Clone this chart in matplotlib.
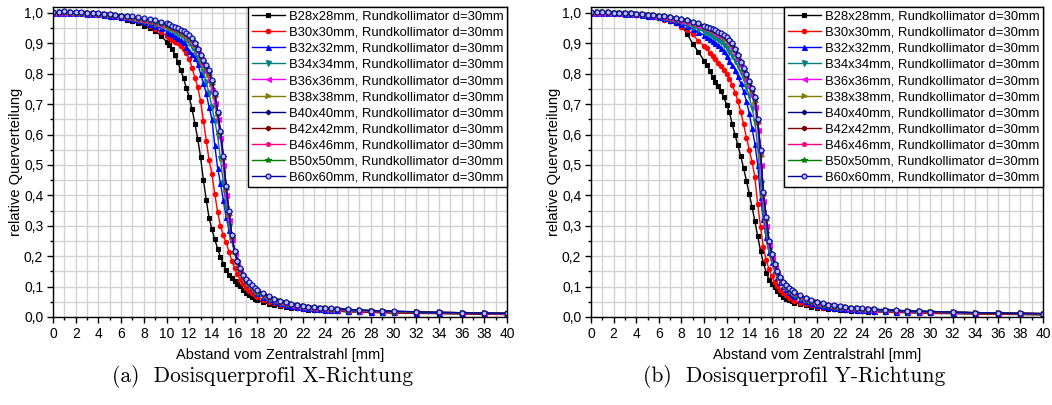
import matplotlib.pyplot as plt
from matplotlib.ticker import MultipleLocator, FuncFormatter

plt.rcParams['font.family'] = ['Liberation Sans', 'DejaVu Sans']

# Messpositionen (Abstand vom Zentralstrahl in mm)
abstand_mm = [0, 0.5, 1, 1.5, 2, 2.5, 3, 3.5, 4, 4.5, 5, 5.5, 6, 6.5, 7, 7.5, 8, 8.5, 9, 9.5,
              10, 10.25, 10.5, 10.75, 11, 11.25, 11.5, 11.75, 12, 12.25, 12.5, 12.75, 13, 13.25, 13.5, 13.75,
              14, 14.25, 14.5, 14.75, 15, 15.25, 15.5, 15.75, 16, 16.25, 16.5, 16.75, 17, 17.25, 17.5, 17.75,
              18, 18.5, 19, 19.5, 20, 20.5, 21, 21.5, 22, 22.5, 23, 23.5, 24, 24.5, 25,
              26, 27, 28, 29, 30, 32, 34, 36, 38, 40]

feld_labels = ["B28x28mm, Rundkollimator d=30mm", "B30x30mm, Rundkollimator d=30mm",
               "B32x32mm, Rundkollimator d=30mm", "B34x34mm, Rundkollimator d=30mm",
               "B36x36mm, Rundkollimator d=30mm", "B38x38mm, Rundkollimator d=30mm",
               "B40x40mm, Rundkollimator d=30mm", "B42x42mm, Rundkollimator d=30mm",
               "B46x46mm, Rundkollimator d=30mm", "B50x50mm, Rundkollimator d=30mm",
               "B60x60mm, Rundkollimator d=30mm"]

# --- Querprofile X-Richtung ---
xr_b28 = [1.000, 1.000, 1.000, 1.000, 0.999, 0.998, 0.997, 0.995, 0.993, 0.990, 0.988, 0.985, 0.982, 0.978, 0.972, 0.966, 0.958, 0.950, 0.940, 0.925,
          0.905, 0.893, 0.880, 0.862, 0.838, 0.812, 0.785, 0.752, 0.722, 0.683, 0.636, 0.585, 0.525, 0.450, 0.385, 0.325, 0.288, 0.255, 0.225, 0.197, 0.175, 0.153, 0.138, 0.127, 0.118, 0.110, 0.101, 0.090, 0.080, 0.072, 0.066, 0.060,
          0.055, 0.049, 0.043, 0.039, 0.035, 0.032, 0.030, 0.028, 0.026, 0.024, 0.023, 0.022, 0.021, 0.020, 0.019,
          0.017, 0.016, 0.015, 0.014, 0.013, 0.012, 0.011, 0.010, 0.009, 0.008]
xr_b30 = [1.000, 1.000, 1.000, 1.000, 0.999, 0.999, 0.998, 0.997, 0.996, 0.994, 0.992, 0.990, 0.987, 0.983, 0.978, 0.972, 0.966, 0.958, 0.948, 0.937,
          0.925, 0.918, 0.912, 0.905, 0.900, 0.892, 0.880, 0.868, 0.848, 0.820, 0.787, 0.755, 0.710, 0.645, 0.580, 0.515, 0.470, 0.405, 0.345, 0.300, 0.268, 0.245, 0.215, 0.185, 0.160, 0.140, 0.123, 0.107, 0.096, 0.087, 0.079, 0.072,
          0.066, 0.057, 0.050, 0.045, 0.040, 0.036, 0.033, 0.031, 0.028, 0.026, 0.025, 0.023, 0.022, 0.021, 0.020,
          0.018, 0.017, 0.016, 0.015, 0.014, 0.013, 0.012, 0.011, 0.010, 0.009]
xr_b32 = [1.000, 1.000, 1.000, 1.000, 0.999, 0.998, 0.997, 0.996, 0.995, 0.993, 0.991, 0.989, 0.986, 0.983, 0.979, 0.975, 0.970, 0.964, 0.957, 0.949,
          0.940, 0.935, 0.930, 0.923, 0.917, 0.910, 0.903, 0.889, 0.875, 0.866, 0.853, 0.832, 0.800, 0.770, 0.735, 0.690, 0.650, 0.565, 0.490, 0.440, 0.385, 0.330, 0.285, 0.255, 0.218, 0.190, 0.162, 0.140, 0.123, 0.108, 0.097, 0.088,
          0.080, 0.067, 0.058, 0.051, 0.046, 0.041, 0.037, 0.034, 0.031, 0.029, 0.027, 0.025, 0.024, 0.023, 0.022,
          0.020, 0.019, 0.018, 0.017, 0.016, 0.014, 0.013, 0.012, 0.011, 0.010]
xr_b34 = [1.000, 1.000, 1.000, 1.000, 0.999, 0.998, 0.997, 0.996, 0.995, 0.994, 0.992, 0.990, 0.988, 0.985, 0.982, 0.978, 0.974, 0.969, 0.963, 0.957,
          0.950, 0.946, 0.942, 0.937, 0.932, 0.926, 0.919, 0.910, 0.900, 0.888, 0.872, 0.850, 0.830, 0.805, 0.772, 0.735, 0.690, 0.645, 0.595, 0.520, 0.440, 0.360, 0.300, 0.250, 0.210, 0.178, 0.152, 0.132, 0.117, 0.105, 0.095, 0.087,
          0.080, 0.069, 0.060, 0.053, 0.047, 0.042, 0.038, 0.035, 0.032, 0.030, 0.028, 0.026, 0.025, 0.024, 0.023,
          0.021, 0.020, 0.019, 0.018, 0.017, 0.015, 0.014, 0.013, 0.012, 0.011]
xr_b36 = [1.000, 1.001, 1.001, 1.001, 1.000, 0.999, 0.998, 0.997, 0.996, 0.995, 0.993, 0.991, 0.989, 0.986, 0.983, 0.980, 0.976, 0.972, 0.967, 0.961,
          0.955, 0.952, 0.948, 0.944, 0.940, 0.935, 0.929, 0.922, 0.913, 0.902, 0.888, 0.870, 0.848, 0.828, 0.805, 0.778, 0.745, 0.702, 0.650, 0.590, 0.500, 0.400, 0.320, 0.255, 0.212, 0.180, 0.155, 0.136, 0.121, 0.109, 0.099, 0.091,
          0.084, 0.072, 0.063, 0.056, 0.050, 0.045, 0.041, 0.037, 0.034, 0.032, 0.030, 0.028, 0.027, 0.026, 0.025,
          0.023, 0.021, 0.020, 0.019, 0.018, 0.016, 0.015, 0.013, 0.012, 0.011]
xr_b38 = [1.001, 1.002, 1.002, 1.002, 1.001, 1.000, 0.999, 0.998, 0.997, 0.996, 0.994, 0.992, 0.990, 0.987, 0.984, 0.981, 0.977, 0.973, 0.969, 0.964,
          0.958, 0.955, 0.951, 0.947, 0.943, 0.938, 0.932, 0.926, 0.918, 0.908, 0.895, 0.877, 0.856, 0.838, 0.818, 0.796, 0.765, 0.725, 0.668, 0.605, 0.520, 0.420, 0.335, 0.262, 0.215, 0.182, 0.157, 0.137, 0.122, 0.110, 0.100, 0.092,
          0.086, 0.074, 0.065, 0.058, 0.052, 0.047, 0.042, 0.039, 0.036, 0.033, 0.031, 0.029, 0.028, 0.027, 0.026,
          0.024, 0.022, 0.020, 0.019, 0.018, 0.016, 0.015, 0.014, 0.012, 0.011]
xr_b40 = [1.002, 1.003, 1.003, 1.003, 1.002, 1.001, 1.000, 0.999, 0.998, 0.996, 0.995, 0.993, 0.991, 0.988, 0.986, 0.983, 0.980, 0.976, 0.972, 0.967,
          0.962, 0.959, 0.955, 0.951, 0.947, 0.942, 0.937, 0.931, 0.923, 0.914, 0.900, 0.882, 0.860, 0.842, 0.824, 0.805, 0.773, 0.733, 0.672, 0.610, 0.527, 0.428, 0.345, 0.267, 0.216, 0.184, 0.159, 0.138, 0.124, 0.113, 0.103, 0.095,
          0.088, 0.077, 0.067, 0.059, 0.053, 0.048, 0.043, 0.040, 0.037, 0.034, 0.032, 0.030, 0.029, 0.028, 0.027,
          0.025, 0.023, 0.021, 0.020, 0.019, 0.017, 0.015, 0.014, 0.013, 0.012]
xr_b42 = [1.001, 1.002, 1.003, 1.002, 1.001, 1.000, 0.999, 0.998, 0.997, 0.996, 0.994, 0.993, 0.990, 0.988, 0.985, 0.982, 0.979, 0.975, 0.971, 0.966,
          0.960, 0.957, 0.953, 0.949, 0.945, 0.940, 0.935, 0.929, 0.921, 0.912, 0.898, 0.880, 0.858, 0.840, 0.822, 0.802, 0.770, 0.730, 0.670, 0.608, 0.525, 0.425, 0.342, 0.265, 0.214, 0.182, 0.157, 0.137, 0.123, 0.111, 0.101, 0.093,
          0.087, 0.075, 0.066, 0.058, 0.052, 0.047, 0.043, 0.039, 0.036, 0.034, 0.031, 0.030, 0.028, 0.027, 0.026,
          0.024, 0.022, 0.021, 0.019, 0.018, 0.016, 0.015, 0.014, 0.013, 0.012]
xr_b46 = [1.000, 1.001, 1.002, 1.002, 1.001, 1.000, 0.999, 0.998, 0.997, 0.995, 0.994, 0.992, 0.990, 0.987, 0.985, 0.982, 0.978, 0.974, 0.970, 0.965,
          0.959, 0.956, 0.952, 0.948, 0.944, 0.939, 0.934, 0.928, 0.920, 0.910, 0.897, 0.879, 0.857, 0.839, 0.820, 0.800, 0.768, 0.728, 0.669, 0.607, 0.523, 0.423, 0.340, 0.264, 0.214, 0.181, 0.156, 0.136, 0.122, 0.110, 0.100, 0.092,
          0.086, 0.074, 0.065, 0.058, 0.052, 0.047, 0.042, 0.039, 0.036, 0.033, 0.031, 0.029, 0.028, 0.027, 0.026,
          0.024, 0.022, 0.020, 0.019, 0.018, 0.016, 0.015, 0.014, 0.012, 0.011]
xr_b50 = [1.001, 1.002, 1.002, 1.002, 1.001, 1.000, 0.999, 0.998, 0.997, 0.996, 0.994, 0.992, 0.990, 0.988, 0.985, 0.982, 0.979, 0.975, 0.971, 0.966,
          0.960, 0.957, 0.953, 0.949, 0.945, 0.941, 0.936, 0.930, 0.922, 0.913, 0.900, 0.881, 0.859, 0.841, 0.823, 0.804, 0.772, 0.732, 0.671, 0.609, 0.526, 0.427, 0.344, 0.266, 0.215, 0.183, 0.158, 0.138, 0.123, 0.112, 0.102, 0.094,
          0.087, 0.076, 0.066, 0.059, 0.053, 0.048, 0.043, 0.039, 0.036, 0.034, 0.032, 0.030, 0.028, 0.027, 0.026,
          0.024, 0.022, 0.021, 0.020, 0.018, 0.016, 0.015, 0.014, 0.013, 0.012]
xr_b60 = [1.003, 1.004, 1.005, 1.004, 1.003, 1.002, 1.000, 0.999, 0.998, 0.997, 0.995, 0.993, 0.991, 0.989, 0.988, 0.985, 0.982, 0.979, 0.976, 0.971,
          0.965, 0.962, 0.958, 0.954, 0.950, 0.945, 0.940, 0.934, 0.927, 0.918, 0.900, 0.882, 0.862, 0.845, 0.830, 0.812, 0.778, 0.738, 0.675, 0.612, 0.530, 0.430, 0.350, 0.270, 0.218, 0.185, 0.160, 0.139, 0.125, 0.114, 0.104, 0.096,
          0.090, 0.078, 0.068, 0.060, 0.053, 0.048, 0.043, 0.040, 0.037, 0.034, 0.032, 0.030, 0.029, 0.028, 0.027,
          0.025, 0.023, 0.021, 0.020, 0.019, 0.017, 0.015, 0.014, 0.013, 0.012]

# --- Querprofile Y-Richtung ---
yr_b28 = [1.000, 1.000, 1.000, 0.999, 0.998, 0.997, 0.996, 0.995, 0.993, 0.992, 0.990, 0.988, 0.985, 0.980, 0.974, 0.966, 0.956, 0.932, 0.898, 0.872,
          0.843, 0.830, 0.810, 0.790, 0.774, 0.760, 0.742, 0.722, 0.698, 0.673, 0.633, 0.598, 0.565, 0.528, 0.490, 0.448, 0.405, 0.362, 0.315, 0.265, 0.218, 0.178, 0.146, 0.123, 0.108, 0.097, 0.085, 0.075, 0.066, 0.060, 0.055, 0.051,
          0.047, 0.042, 0.038, 0.034, 0.031, 0.029, 0.027, 0.025, 0.023, 0.022, 0.021, 0.020, 0.019, 0.018, 0.017,
          0.016, 0.015, 0.014, 0.013, 0.012, 0.011, 0.010, 0.009, 0.008, 0.007]
yr_b30 = [1.000, 1.000, 1.000, 1.000, 0.999, 0.998, 0.997, 0.996, 0.994, 0.992, 0.990, 0.987, 0.983, 0.978, 0.972, 0.965, 0.955, 0.943, 0.930, 0.907,
          0.892, 0.883, 0.868, 0.858, 0.847, 0.835, 0.824, 0.811, 0.798, 0.782, 0.762, 0.738, 0.710, 0.675, 0.635, 0.590, 0.550, 0.510, 0.460, 0.370, 0.296, 0.230, 0.188, 0.157, 0.134, 0.116, 0.101, 0.089, 0.079, 0.071, 0.064, 0.058,
          0.054, 0.047, 0.042, 0.038, 0.034, 0.031, 0.029, 0.027, 0.025, 0.024, 0.022, 0.021, 0.020, 0.019, 0.019,
          0.017, 0.016, 0.015, 0.014, 0.013, 0.012, 0.011, 0.010, 0.009, 0.008]
yr_b32 = [1.000, 1.000, 1.000, 1.000, 0.999, 0.998, 0.997, 0.996, 0.995, 0.993, 0.991, 0.989, 0.986, 0.982, 0.977, 0.971, 0.964, 0.956, 0.947, 0.937,
          0.927, 0.921, 0.915, 0.908, 0.902, 0.894, 0.885, 0.873, 0.857, 0.842, 0.828, 0.812, 0.792, 0.768, 0.742, 0.710, 0.670, 0.620, 0.570, 0.500, 0.395, 0.322, 0.262, 0.215, 0.180, 0.153, 0.132, 0.115, 0.102, 0.092, 0.083, 0.076,
          0.070, 0.060, 0.052, 0.046, 0.041, 0.037, 0.034, 0.031, 0.029, 0.027, 0.025, 0.024, 0.023, 0.022, 0.021,
          0.019, 0.018, 0.017, 0.016, 0.015, 0.014, 0.013, 0.012, 0.011, 0.010]
yr_b34 = [1.000, 1.000, 1.000, 1.000, 0.999, 0.998, 0.997, 0.996, 0.995, 0.994, 0.992, 0.990, 0.987, 0.984, 0.980, 0.975, 0.969, 0.962, 0.954, 0.946,
          0.938, 0.933, 0.928, 0.922, 0.916, 0.910, 0.903, 0.895, 0.885, 0.872, 0.858, 0.842, 0.825, 0.805, 0.782, 0.756, 0.725, 0.688, 0.640, 0.560, 0.440, 0.345, 0.272, 0.220, 0.183, 0.156, 0.135, 0.118, 0.105, 0.095, 0.086, 0.079,
          0.073, 0.063, 0.055, 0.048, 0.043, 0.039, 0.035, 0.032, 0.030, 0.028, 0.026, 0.025, 0.024, 0.023, 0.022,
          0.020, 0.019, 0.018, 0.017, 0.016, 0.014, 0.013, 0.012, 0.011, 0.010]
yr_b36 = [1.001, 1.001, 1.001, 1.001, 1.000, 0.999, 0.998, 0.997, 0.996, 0.995, 0.993, 0.991, 0.989, 0.986, 0.983, 0.979, 0.974, 0.969, 0.963, 0.957,
          0.950, 0.946, 0.942, 0.937, 0.932, 0.927, 0.921, 0.914, 0.906, 0.896, 0.883, 0.866, 0.846, 0.825, 0.802, 0.780, 0.756, 0.728, 0.690, 0.615, 0.500, 0.380, 0.300, 0.237, 0.196, 0.165, 0.142, 0.124, 0.110, 0.100, 0.091, 0.084,
          0.078, 0.067, 0.059, 0.052, 0.047, 0.043, 0.039, 0.036, 0.033, 0.031, 0.029, 0.027, 0.026, 0.025, 0.024,
          0.022, 0.021, 0.019, 0.018, 0.017, 0.015, 0.014, 0.013, 0.012, 0.011]
yr_b38 = [1.001, 1.002, 1.002, 1.002, 1.001, 1.000, 0.999, 0.998, 0.997, 0.996, 0.994, 0.992, 0.990, 0.988, 0.985, 0.981, 0.977, 0.973, 0.968, 0.962,
          0.955, 0.951, 0.947, 0.943, 0.939, 0.934, 0.929, 0.922, 0.915, 0.906, 0.894, 0.877, 0.857, 0.836, 0.813, 0.792, 0.770, 0.742, 0.708, 0.638, 0.530, 0.400, 0.318, 0.245, 0.203, 0.171, 0.147, 0.128, 0.114, 0.103, 0.094, 0.086,
          0.080, 0.069, 0.060, 0.053, 0.048, 0.044, 0.040, 0.037, 0.034, 0.032, 0.030, 0.028, 0.027, 0.026, 0.025,
          0.023, 0.021, 0.020, 0.019, 0.017, 0.016, 0.014, 0.013, 0.012, 0.011]
yr_b40 = [1.002, 1.003, 1.003, 1.002, 1.001, 1.000, 0.999, 0.998, 0.997, 0.996, 0.994, 0.993, 0.991, 0.989, 0.986, 0.983, 0.979, 0.975, 0.970, 0.965,
          0.958, 0.954, 0.950, 0.946, 0.942, 0.937, 0.932, 0.926, 0.919, 0.911, 0.899, 0.881, 0.861, 0.839, 0.817, 0.797, 0.775, 0.750, 0.720, 0.648, 0.548, 0.408, 0.328, 0.249, 0.207, 0.174, 0.149, 0.130, 0.116, 0.105, 0.095, 0.088,
          0.081, 0.070, 0.061, 0.054, 0.049, 0.045, 0.041, 0.037, 0.035, 0.032, 0.030, 0.029, 0.027, 0.026, 0.025,
          0.023, 0.022, 0.020, 0.019, 0.018, 0.016, 0.014, 0.013, 0.012, 0.011]
yr_b42 = [1.001, 1.002, 1.003, 1.002, 1.001, 1.000, 0.999, 0.998, 0.997, 0.995, 0.994, 0.992, 0.990, 0.988, 0.985, 0.982, 0.978, 0.974, 0.969, 0.964,
          0.957, 0.953, 0.949, 0.945, 0.941, 0.936, 0.931, 0.925, 0.918, 0.909, 0.897, 0.879, 0.859, 0.838, 0.815, 0.795, 0.773, 0.747, 0.716, 0.645, 0.543, 0.405, 0.324, 0.248, 0.205, 0.173, 0.148, 0.129, 0.115, 0.104, 0.095, 0.087,
          0.081, 0.070, 0.061, 0.054, 0.048, 0.044, 0.040, 0.037, 0.034, 0.032, 0.030, 0.028, 0.027, 0.026, 0.025,
          0.023, 0.021, 0.020, 0.019, 0.018, 0.016, 0.014, 0.013, 0.012, 0.011]
yr_b46 = [1.000, 1.001, 1.002, 1.002, 1.001, 1.000, 0.999, 0.998, 0.997, 0.996, 0.994, 0.992, 0.990, 0.987, 0.984, 0.981, 0.977, 0.973, 0.968, 0.963,
          0.956, 0.952, 0.948, 0.944, 0.940, 0.935, 0.930, 0.924, 0.917, 0.908, 0.896, 0.878, 0.858, 0.837, 0.814, 0.794, 0.772, 0.745, 0.713, 0.642, 0.538, 0.403, 0.321, 0.246, 0.204, 0.172, 0.148, 0.129, 0.115, 0.104, 0.094, 0.087,
          0.080, 0.069, 0.061, 0.054, 0.048, 0.044, 0.040, 0.037, 0.034, 0.032, 0.030, 0.028, 0.027, 0.026, 0.025,
          0.023, 0.021, 0.020, 0.019, 0.017, 0.016, 0.014, 0.013, 0.012, 0.011]
yr_b50 = [1.001, 1.002, 1.002, 1.002, 1.001, 1.000, 0.999, 0.998, 0.997, 0.996, 0.994, 0.993, 0.991, 0.988, 0.986, 0.982, 0.979, 0.975, 0.970, 0.964,
          0.957, 0.954, 0.950, 0.946, 0.941, 0.936, 0.931, 0.925, 0.918, 0.910, 0.898, 0.880, 0.860, 0.839, 0.816, 0.796, 0.774, 0.749, 0.718, 0.647, 0.546, 0.407, 0.326, 0.249, 0.206, 0.174, 0.149, 0.130, 0.116, 0.105, 0.095, 0.088,
          0.081, 0.070, 0.061, 0.054, 0.049, 0.044, 0.041, 0.037, 0.034, 0.032, 0.030, 0.029, 0.027, 0.026, 0.025,
          0.023, 0.022, 0.020, 0.019, 0.018, 0.016, 0.014, 0.013, 0.012, 0.011]
yr_b60 = [1.002, 1.003, 1.003, 1.002, 1.001, 1.000, 0.999, 0.998, 0.997, 0.996, 0.994, 0.993, 0.991, 0.989, 0.986, 0.983, 0.979, 0.975, 0.970, 0.965,
          0.958, 0.954, 0.950, 0.946, 0.942, 0.938, 0.933, 0.927, 0.920, 0.912, 0.900, 0.882, 0.862, 0.840, 0.818, 0.798, 0.776, 0.752, 0.722, 0.650, 0.550, 0.410, 0.330, 0.250, 0.208, 0.175, 0.150, 0.131, 0.116, 0.105, 0.096, 0.088,
          0.082, 0.071, 0.062, 0.055, 0.050, 0.045, 0.041, 0.038, 0.035, 0.033, 0.031, 0.029, 0.028, 0.027, 0.026,
          0.024, 0.022, 0.020, 0.019, 0.018, 0.016, 0.014, 0.013, 0.012, 0.011]

profile_x = [xr_b28, xr_b30, xr_b32, xr_b34, xr_b36, xr_b38, xr_b40, xr_b42, xr_b46, xr_b50, xr_b60]
profile_y = [yr_b28, yr_b30, yr_b32, yr_b34, yr_b36, yr_b38, yr_b40, yr_b42, yr_b46, yr_b50, yr_b60]

farben = ['#000000', '#FF0000', '#0000FF', '#008080', '#FF00FF', '#808000',
          '#000080', '#800000', '#FF0080', '#008000', '#0000A0']
marker = ['s', 'o', '^', 'v', '<', '>', 'D', 'h', 'p', '*', 'o']
msize = [3.0, 3.2, 3.6, 3.6, 3.6, 3.6, 2.4, 3.2, 3.2, 3.8, 3.6]

komma = FuncFormatter(lambda v, pos: "{:.1f}".format(v).replace('.', ','))


def zeichne(ax, profile, titel, titel_x):
    for i, werte in enumerate(profile):
        face = farben[i]
        if i == len(profile) - 1:
            face = '#b8b8ff'
        ax.plot(abstand_mm, werte, color=farben[i], marker=marker[i], ms=msize[i],
                mfc=face, mec=farben[i], mew=0.8, lw=1.0, label=feld_labels[i])

    ax.set_xlim(0, 40)
    ax.set_ylim(0, 1.02)
    ax.xaxis.set_major_locator(MultipleLocator(2))
    ax.xaxis.set_minor_locator(MultipleLocator(1))
    ax.yaxis.set_major_locator(MultipleLocator(0.1))
    ax.yaxis.set_minor_locator(MultipleLocator(0.05))
    ax.yaxis.set_major_formatter(komma)
    ax.grid(True, which='both', color='#d2d2d2', lw=1.0)
    ax.set_axisbelow(True)
    ax.tick_params(which='major', direction='out', length=4, width=1, labelsize=10, colors='black', pad=3)
    ax.tick_params(which='minor', direction='out', length=2, width=1)
    for s in ax.spines.values():
        s.set_linewidth(1.0)
        s.set_color('black')

    ax.set_xlabel("Abstand vom Zentralstrahl [mm]", fontsize=10.5, labelpad=5)
    ax.set_ylabel("relative Querverteilung", fontsize=10.5, labelpad=1)

    leg = ax.legend(loc='upper right', bbox_to_anchor=(1.0, 1.0), borderaxespad=0.0,
                    fontsize=9.4, handlelength=2.5, handletextpad=0.3, labelspacing=0.3,
                    borderpad=0.3, fancybox=False, framealpha=1.0, edgecolor='black')
    leg.get_frame().set_linewidth(1.0)

    # Unterschrift mittig unter der jeweiligen Bildhälfte
    fig.text(titel_x, 0.07, titel, ha='center', va='center',
             fontsize=15.5, family='cmr10')


fig = plt.figure(figsize=(10.52, 4.05), dpi=100)
ax_x = fig.add_axes([0.0504, 0.2173, 0.4316, 0.766])
ax_y = fig.add_axes([0.5618, 0.2173, 0.4297, 0.766])

zeichne(ax_x, profile_x, "(a)  Dosisquerprofil X-Richtung", 0.25)
zeichne(ax_y, profile_y, "(b)  Dosisquerprofil Y-Richtung", 0.755)

fig.savefig('out.png', dpi=100)
